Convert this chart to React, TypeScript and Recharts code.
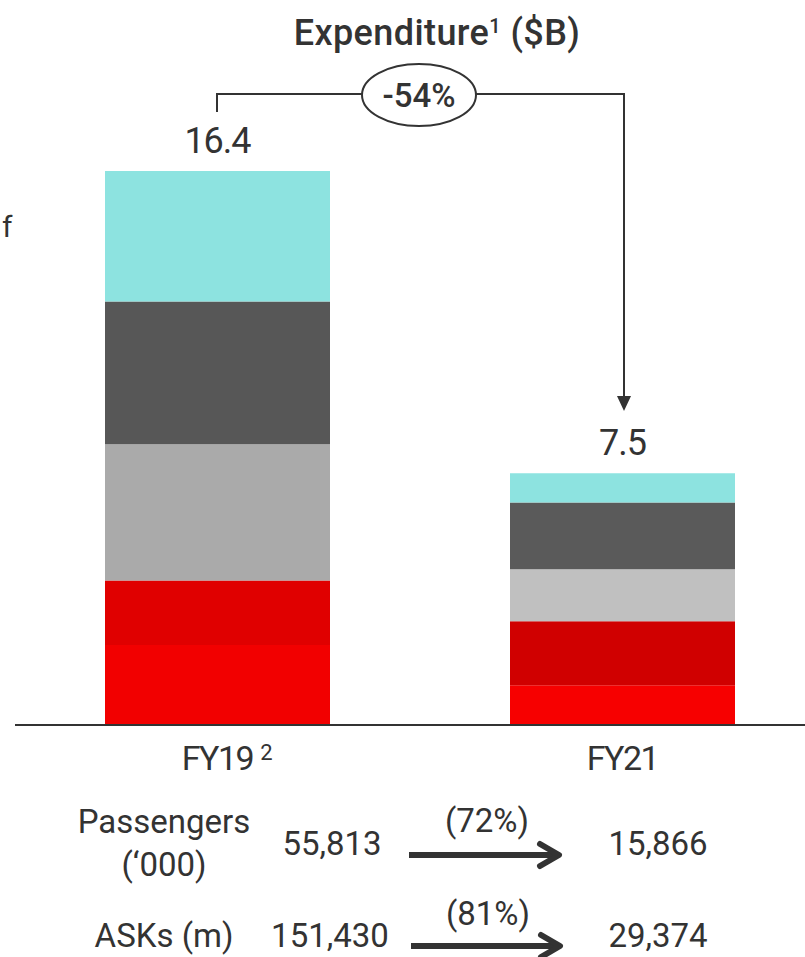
import React from 'react';
import { BarChart, Bar, XAxis, YAxis, Cell, LabelList } from 'recharts';

const categories = ['FY19', 'FY21'];
const tickSuperscripts = ['2', ''];
const totalLabels = ['16.4', '7.5'];

// stacked segments, bottom to top ($B)
const seg1 = [2.37, 1.18];
const seg2 = [1.91, 1.89];
const seg3 = [4.03, 1.54];
const seg4 = [4.23, 1.98];
const seg5 = [3.86, 0.86];

const seg1Colors = ['#f20000', '#f70000'];
const seg2Colors = ['#e00000', '#d00000'];
const seg3Colors = ['#aaaaaa', '#c0c0c0'];
const seg4Colors = ['#575757', '#5a5a5a'];
const seg5Colors = ['#8de3e0', '#8de3e0'];

const title = 'Expenditure';
const titleSup = '1';
const titleUnit = ' ($B)';
const changeLabel = '-54%';

const metricLabels = [['Passengers', '(\u2018000)'], ['ASKs (m)']];
const fy19Values = ['55,813', '151,430'];
const fy21Values = ['15,866', '29,374'];
const metricChanges = ['(72%)', '(81%)'];

const data = categories.map((c, i) => ({
  name: c,
  s1: seg1[i],
  s2: seg2[i],
  s3: seg3[i],
  s4: seg4[i],
  s5: seg5[i],
}));

const FONT = 'Roboto, "DejaVu Sans", sans-serif';
const TXT = '#333333';

const series = [
  { key: 's1', colors: seg1Colors },
  { key: 's2', colors: seg2Colors },
  { key: 's3', colors: seg3Colors },
  { key: 's4', colors: seg4Colors },
  { key: 's5', colors: seg5Colors },
];

const CatTick = (props: any) => {
  const { x, y, payload, index } = props;
  const sup = tickSuperscripts[index] || '';
  return (
    <g>
      <text x={x} y={y + 37} textAnchor="middle" fontFamily={FONT} fontSize={34} fill={TXT} letterSpacing={-1.5}>
        {payload.value}
      </text>
      {sup ? (
        <text x={x + 49} y={y + 27} textAnchor="middle" fontFamily={FONT} fontSize={22} fill={TXT}>
          {sup}
        </text>
      ) : null}
    </g>
  );
};

const TotalLabel = (props: any) => {
  const { x, y, width, index } = props;
  return (
    <text x={x + width / 2} y={y - 18} textAnchor="middle" fontFamily={FONT} fontSize={36} fill={TXT} letterSpacing={-1}>
      {totalLabels[index]}
    </text>
  );
};

const Arrow = ({ x1, x2, y }: { x1: number; x2: number; y: number }) => (
  <g>
    <line x1={x1} y1={y} x2={x2 - 4} y2={y} stroke={TXT} strokeWidth={6} />
    <polyline points={`${x2 - 22},${y - 11} ${x2 - 3},${y} ${x2 - 22},${y + 11}`} fill="none" stroke={TXT} strokeWidth={6} strokeLinecap="round" strokeLinejoin="round" />
  </g>
);

const tStyle = { fontFamily: FONT, fontSize: 33, fill: TXT } as const;

export default function App() {
  return (
    <div style={{ position: 'relative', width: 805, height: 957, background: '#fff' }}>
      <style>{`body{margin:0}`}</style>
      <BarChart
        width={805}
        height={957}
        data={data}
        margin={{ top: 171, right: 0, bottom: 182, left: 15 }}
        barSize={225}
      >
        <YAxis hide domain={[0, 16.4]} />
        <XAxis
          dataKey="name"
          height={50}
          axisLine={{ stroke: '#333333', strokeWidth: 2 }}
          tickLine={false}
          tick={<CatTick />}
          padding={{ left: 0, right: -20 }}
          interval={0}
        />
        {series.map((s, si) => (
          <Bar key={s.key} dataKey={s.key} stackId="a" isAnimationActive={false}>
            {data.map((d, i) => (
              <Cell key={i} fill={s.colors[i]} />
            ))}
            {si === series.length - 1 ? <LabelList dataKey={s.key} content={<TotalLabel />} /> : null}
          </Bar>
        ))}
      </BarChart>
      <svg width={805} height={957} style={{ position: 'absolute', left: 0, top: 0, pointerEvents: 'none' }}>
        <text x={2} y={237} fontFamily={FONT} fontSize={30} fill={TXT}>f</text>
        <text x={437} y={45} textAnchor="middle" fontFamily={FONT} fontSize={36} fontWeight={500} fill={TXT} letterSpacing={0.4}>
          {title}
          <tspan fontSize={20} dy={-12}>{titleSup}</tspan>
          <tspan dy={12}>{titleUnit}</tspan>
        </text>
        <polyline points="217,112 217,94 362,94" fill="none" stroke={TXT} strokeWidth={2} />
        <polyline points="476,94 624,94 624,398" fill="none" stroke={TXT} strokeWidth={2} />
        <polygon points="617,396 631,396 624,411" fill={TXT} />
        <ellipse cx={419} cy={95} rx={57} ry={31} fill="#fff" stroke={TXT} strokeWidth={2} />
        <text x={419} y={107} textAnchor="middle" fontFamily={FONT} fontSize={33} fontWeight={500} fill={TXT}>
          {changeLabel}
        </text>
        {/* row 1 */}
        <text x={164} y={833} textAnchor="middle" {...tStyle}>{metricLabels[0][0]}</text>
        <text x={164} y={876} textAnchor="middle" {...tStyle}>{metricLabels[0][1]}</text>
        <text x={332} y={855} textAnchor="middle" {...tStyle}>{fy19Values[0]}</text>
        <text x={487} y={832} textAnchor="middle" {...tStyle}>{metricChanges[0]}</text>
        <Arrow x1={409} x2={562} y={855} />
        <text x={658} y={855} textAnchor="middle" {...tStyle}>{fy21Values[0]}</text>
        {/* row 2 */}
        <text x={164} y={947} textAnchor="middle" {...tStyle}>{metricLabels[1][0]}</text>
        <text x={330} y={947} textAnchor="middle" {...tStyle}>{fy19Values[1]}</text>
        <text x={488} y={925} textAnchor="middle" {...tStyle}>{metricChanges[1]}</text>
        <Arrow x1={411} x2={563} y={946} />
        <text x={658} y={947} textAnchor="middle" {...tStyle}>{fy21Values[1]}</text>
      </svg>
    </div>
  );
}
